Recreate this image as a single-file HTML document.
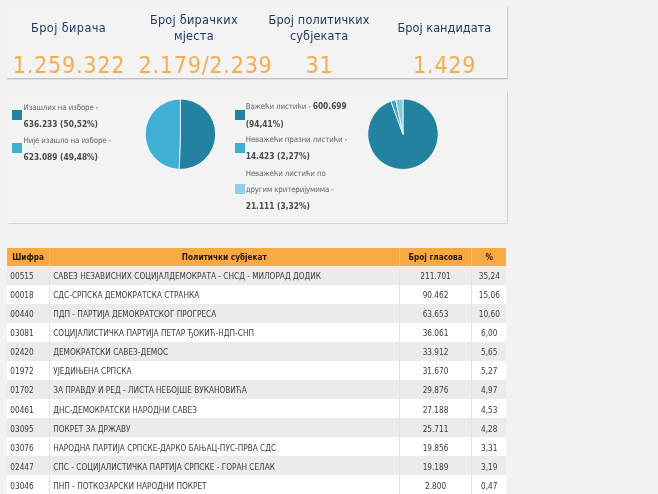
<!DOCTYPE html>
<html lang="sr"><head><meta charset="utf-8"><title>Резултати</title>
<style>
html,body{margin:0;padding:0;}
body{width:658px;height:494px;overflow:hidden;background:#f2f2f2;font-family:"DejaVu Sans Condensed", "DejaVu Sans", "Liberation Sans", sans-serif;position:relative;color:#333;font-stretch:condensed;}
.card{position:absolute;background:#f3f3f3;box-shadow:1px 1.5px 1.5px rgba(0,0,0,0.2);}
#c2{box-shadow:0.8px 0.8px 0.9px rgba(0,0,0,0.13);}
#c1{left:6px;top:5px;width:501px;height:73px;}
#c2{left:6px;top:89px;width:501px;height:134px;}
.stat{position:absolute;top:0;width:125.25px;height:73px;text-align:center;}
.stat .t{position:absolute;left:0;right:0;color:#1f3b63;font-size:12.6px;line-height:15.3px;letter-spacing:0.13px;}
.stat .n{position:absolute;left:-10px;right:-10px;top:45px;color:#f4ad50;font-size:23.2px;line-height:30px;white-space:nowrap;letter-spacing:0.7px;text-indent:0.7px;}
.lg{position:absolute;font-size:7.9px;line-height:16.2px;color:#666;white-space:nowrap;letter-spacing:-0.15px;}
.lg b{color:#4a4a4a;font-weight:bold;font-size:8.3px;letter-spacing:0;}
.sq{position:absolute;width:10px;height:10px;}
table{position:absolute;left:7.3px;top:248.2px;width:499px;border-collapse:collapse;font-size:8.2px;table-layout:fixed;}
th{background:#f7a943;color:#2a1500;font-weight:bold;height:17.7px;padding:0.6px 0 0 0;box-sizing:border-box;border-left:1px solid #f9be74;text-align:center;}
th:first-child{border-left:none;}
td{height:19.05px;padding:1.6px 0 0 0;box-sizing:border-box;border-left:1px solid #e2e3e6;color:#3a3a3a;white-space:nowrap;overflow:hidden;}
td:first-child{border-left:none;padding-left:3px;}
td.p{padding-left:3.4px;}
td.c{text-align:center;}
tr.o td{background:#ebebeb;}
tr.e td{background:#ffffff;}
</style></head><body>
<div class="card" id="c1">
 <div class="stat" style="left:0"><div class="t" style="top:14.9px;letter-spacing:0.4px">Број бирача</div><div class="n">1.259.322</div></div>
 <div class="stat" style="left:125.25px"><div class="t" style="top:7.25px;letter-spacing:0.25px">Број бирачких<br>мјеста</div><div class="n" style="left:6.5px;right:auto;text-align:left">2.179/2.239</div></div>
 <div class="stat" style="left:250.5px"><div class="t" style="top:7.25px">Број политичких<br>субјеката</div><div class="n">31</div></div>
 <div class="stat" style="left:375.75px"><div class="t" style="top:14.9px;letter-spacing:0.03px">Број кандидата</div><div class="n">1.429</div></div>
</div>
<div class="card" id="c2"></div>
<div class="sq" style="left:12px;top:110px;background:#23829f"></div>
<div class="sq" style="left:12px;top:142.5px;background:#3fb0d4"></div>
<div class="lg" id="l1" style="left:23.5px;top:99.5px">Изашлих на изборе -<br><b>636.233 (50,52%)</b></div>
<div class="lg" id="l2" style="left:23.5px;top:132.5px">Није изашло на изборе -<br><b>623.089 (49,48%)</b></div>
<div class="sq" style="left:235px;top:110px;background:#23829f"></div>
<div class="sq" style="left:235px;top:143px;background:#3fb0d4"></div>
<div class="sq" style="left:235px;top:184.3px;background:#8fd0e6"></div>
<div class="lg" id="l3" style="left:245.7px;top:98.4px">Важећи листићи - <b>600.699</b><br><b>(94,41%)</b></div>
<div class="lg" id="l4" style="left:245.7px;top:132px">Неважећи празни листићи -<br><b>14.423 (2,27%)</b></div>
<div class="lg" id="l5" style="left:245.7px;top:165.8px;line-height:16px">Неважећи листићи по<br>другим критеријумима -<br><b>21.111 (3,32%)</b></div>
<svg style="position:absolute;left:0;top:0" width="658" height="494" viewBox="0 0 658 494">
<path d="M180.40,134.20 L180.40,99.00 A35.2,35.2 0 1 1 179.25,169.38 Z" fill="#23829f" stroke="#fff" stroke-width="0.8" stroke-linejoin="round"/>
<path d="M180.40,134.20 L179.25,169.38 A35.2,35.2 0 0 1 180.40,99.00 Z" fill="#3fb0d4" stroke="#fff" stroke-width="0.8" stroke-linejoin="round"/>
<path d="M403.00,134.20 L403.00,99.00 A35.2,35.2 0 1 1 390.89,101.15 Z" fill="#23829f" stroke="#fff" stroke-width="0.8" stroke-linejoin="round"/>
<path d="M403.00,134.20 L390.89,101.15 A35.2,35.2 0 0 1 395.71,99.76 Z" fill="#3aa5c7" stroke="#fff" stroke-width="0.8" stroke-linejoin="round"/>
<path d="M403.00,134.20 L395.71,99.76 A35.2,35.2 0 0 1 403.00,99.00 Z" fill="#86cae0" stroke="#fff" stroke-width="0.8" stroke-linejoin="round"/>
</svg>
<table>
<colgroup><col style="width:42px"><col style="width:350px"><col style="width:72.5px"><col style="width:34.5px"></colgroup>
<tr><th>Шифра</th><th>Политички субјекат</th><th>Број гласова</th><th>%</th></tr>
<tr class="o"><td>00515</td><td class="p">САВЕЗ НЕЗАВИСНИХ СОЦИЈАЛДЕМОКРАТА - СНСД - МИЛОРАД ДОДИК</td><td class="c">211.701</td><td class="c">35,24</td></tr>
<tr class="e"><td>00018</td><td class="p">СДС-СРПСКА ДЕМОКРАТСКА СТРАНКА</td><td class="c">90.462</td><td class="c">15,06</td></tr>
<tr class="o"><td>00440</td><td class="p">ПДП - ПАРТИЈА ДЕМОКРАТСКОГ ПРОГРЕСА</td><td class="c">63.653</td><td class="c">10,60</td></tr>
<tr class="e"><td>03081</td><td class="p">СОЦИЈАЛИСТИЧКА ПАРТИЈА ПЕТАР ЂОКИЋ-НДП-СНП</td><td class="c">36.061</td><td class="c">6,00</td></tr>
<tr class="o"><td>02420</td><td class="p">ДЕМОКРАТСКИ САВЕЗ-ДЕМОС</td><td class="c">33.912</td><td class="c">5,65</td></tr>
<tr class="e"><td>01972</td><td class="p">УЈЕДИЊЕНА СРПСКА</td><td class="c">31.670</td><td class="c">5,27</td></tr>
<tr class="o"><td>01702</td><td class="p">ЗА ПРАВДУ И РЕД - ЛИСТА НЕБОЈШЕ ВУКАНОВИЋА</td><td class="c">29.876</td><td class="c">4,97</td></tr>
<tr class="e"><td>00461</td><td class="p">ДНС-ДЕМОКРАТСКИ НАРОДНИ САВЕЗ</td><td class="c">27.188</td><td class="c">4,53</td></tr>
<tr class="o"><td>03095</td><td class="p">ПОКРЕТ ЗА ДРЖАВУ</td><td class="c">25.711</td><td class="c">4,28</td></tr>
<tr class="e"><td>03076</td><td class="p">НАРОДНА ПАРТИЈА СРПСКЕ-ДАРКО БАЊАЦ-ПУС-ПРВА СДС</td><td class="c">19.856</td><td class="c">3,31</td></tr>
<tr class="o"><td>02447</td><td class="p">СПС - СОЦИЈАЛИСТИЧКА ПАРТИЈА СРПСКЕ - ГОРАН СЕЛАК</td><td class="c">19.189</td><td class="c">3,19</td></tr>
<tr class="e"><td>03046</td><td class="p">ПНП - ПОТКОЗАРСКИ НАРОДНИ ПОКРЕТ</td><td class="c">2.800</td><td class="c">0,47</td></tr>
</table>
</body></html>
